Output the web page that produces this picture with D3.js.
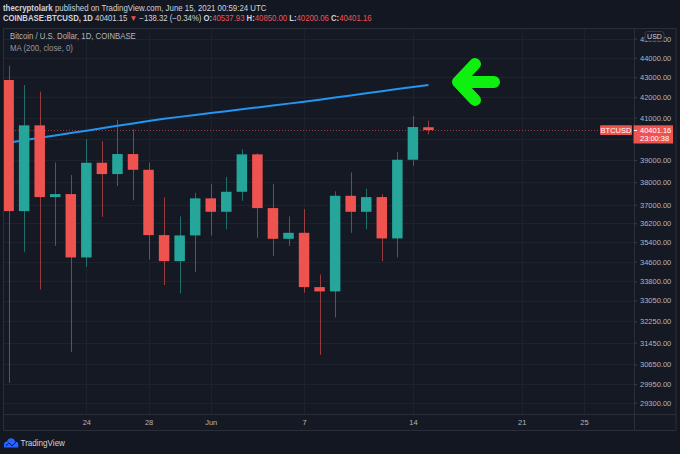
<!DOCTYPE html>
<html>
<head>
<meta charset="utf-8">
<title>BTCUSD 1D</title>
<script src="https://cdn.jsdelivr.net/npm/d3@7"></script>
<style>
  body { margin: 0; background: #131722; overflow: hidden; }
  text { font-family: "Liberation Sans", Arial, sans-serif; }
</style>
</head>
<body>
<script>

// daily candles (last one from the header)
var days   = ["2021-05-19","2021-05-20","2021-05-21","2021-05-22","2021-05-23","2021-05-24","2021-05-25",
              "2021-05-26","2021-05-27","2021-05-28","2021-05-29","2021-05-30","2021-05-31","2021-06-01",
              "2021-06-02","2021-06-03","2021-06-04","2021-06-05","2021-06-06","2021-06-07","2021-06-08",
              "2021-06-09","2021-06-10","2021-06-11","2021-06-12","2021-06-13","2021-06-14","2021-06-15"];
var opens  = [42858,36723,40629,37334,37467,34771,38876,38361,39277,38556,35698,34620,35685,37278,
              36693,37569,39263,36853,35543,35795,33576,33406,37392,36693,37334,35559,39014,40537.93];
var highs  = [43587,42606,42271,38894,38316,39977,39883,40884,40438,38894,37322,36494,37524,37911,
              38226,39495,39309,37925,36494,36810,34081,37587,38438,37702,37454,39383,41077,40850.00];
var lows   = [29992,35001,33482,35249,31108,34388,36477,37822,37190,34689,33656,33327,34186,35685,
              35939,37172,35585,34825,35249,33351,30999,32397,35795,35939,34620,34771,38738,40200.06];
var closes = [36723,40629,37334,37467,34771,38876,38361,39277,38556,35698,34620,35685,37278,36693,
              37569,39263,36853,35543,35795,33576,33406,37392,36693,37334,35559,39014,40547,40401.16];
var ma200  = [39808,39921,40034,40147,40261,40375,40490,40604,40720,40835,40944,41036,41128,41220,
              41312,41402,41495,41588,41682,41775,41876,41983,42087,42191,42296,42401,42506,42611];

// 40000 has a grid line but its label is covered by the last price box
var priceTicks = [45000,44000,43000,42000,41000,40000,39000,38000,37000,36200,35400,34600,
                  33800,33050,32250,31450,30650,29950,29300];
var hiddenTick = 40000;
var timeTicks  = ["2021-05-24","2021-05-28","2021-06-01","2021-06-07","2021-06-14","2021-06-21","2021-06-25"];
var timeLabels = ["24","28","Jun","7","14","21","25"];

var lastPrice = 40401.16;

var W = 680, H = 454;
var plotL = 3, plotR = 634, plotT = 29, plotB = 414;
var up = "#26a69a", down = "#ef5350";

var parse = d3.utcParse("%Y-%m-%d");
var candles = days.map(function (d, i) {
  return {date: parse(d), o: opens[i], h: highs[i], l: lows[i], c: closes[i], ma: ma200[i]};
});

var x = d3.scaleUtc()
  .domain([parse(days[0]), parse(days[days.length - 1])])
  .range([8.6, 428.45]);
var y = d3.scaleLog()
  .domain([29300, 44000])
  .range([402.7, 57.7]);

var svg = d3.select("body").append("svg")
  .attr("width", W)
  .attr("height", H);

// squeeze a text sideways so it spans the wanted width, keeping its height
function squeezeText(px, py, width, size) {
  var g = svg.append("g");
  var t = g.append("text").style("font-size", size + "px");
  t.fit = function () {
    var w = t.node().getComputedTextLength();
    var sx = w > 0 ? Math.min(1, width / w) : 1;
    g.attr("transform", "translate(" + px + "," + py + ") scale(" + sx + ",1)");
    return t;
  };
  return t;
}

svg.append("rect").attr("width", W).attr("height", H).attr("fill", "#131722");

// chart box
svg.append("rect")
  .attr("x", 3.5).attr("y", 28.5).attr("width", 672.5).attr("height", 402)
  .attr("fill", "#151924").attr("stroke", "#2a2e39");

// grid
var grid = svg.append("g").attr("stroke", "#1e222d").attr("stroke-width", 1);
grid.selectAll("line.h").data(priceTicks).enter().append("line")
  .attr("class", "h")
  .attr("x1", plotL + 1).attr("x2", plotR)
  .attr("y1", function (d) { return Math.round(y(d)) + 0.5; })
  .attr("y2", function (d) { return Math.round(y(d)) + 0.5; });
grid.selectAll("line.v").data(timeTicks).enter().append("line")
  .attr("class", "v")
  .attr("y1", plotT + 1).attr("y2", plotB)
  .attr("x1", function (d) { return Math.round(x(parse(d))) + 0.5; })
  .attr("x2", function (d) { return Math.round(x(parse(d))) + 0.5; });

// axis separators
svg.append("line").attr("x1", plotR + 0.5).attr("x2", plotR + 0.5).attr("y1", 29).attr("y2", 431)
  .attr("stroke", "#2a2e39");
svg.append("line").attr("x1", 3).attr("x2", 676).attr("y1", plotB + 0.5).attr("y2", plotB + 0.5)
  .attr("stroke", "#2a2e39");

svg.append("clipPath").attr("id", "plot")
  .append("rect").attr("x", plotL + 1).attr("y", plotT + 1)
  .attr("width", plotR - plotL - 1).attr("height", plotB - plotT - 1);
var plot = svg.append("g").attr("clip-path", "url(#plot)");

// last price line
plot.append("line")
  .attr("x1", plotL).attr("x2", 600)
  .attr("y1", Math.round(y(lastPrice)) + 0.5).attr("y2", Math.round(y(lastPrice)) + 0.5)
  .attr("stroke", down).attr("stroke-opacity", 0.6).attr("stroke-dasharray", "1,2");

// MA 200 (sits under the candles)
plot.append("path")
  .datum(candles)
  .attr("fill", "none")
  .attr("stroke", "#2196f3")
  .attr("stroke-width", 2)
  .attr("d", d3.line()
    .x(function (d) { return x(d.date); })
    .y(function (d) { return y(d.ma); }));

// candles
var bw = 10.5;
var cg = plot.selectAll("g.candle").data(candles).enter().append("g").attr("class", "candle");
cg.append("line")
  .attr("x1", function (d) { return Math.round(x(d.date)) + 0.5; })
  .attr("x2", function (d) { return Math.round(x(d.date)) + 0.5; })
  .attr("y1", function (d) { return y(d.h); })
  .attr("y2", function (d) { return y(d.l); })
  .attr("stroke", function (d) { return d.c >= d.o ? up : down; })
  .attr("stroke-opacity", 0.6);
cg.append("rect")
  .attr("x", function (d) { return x(d.date) - bw / 2; })
  .attr("width", bw)
  .attr("y", function (d) { return y(Math.max(d.o, d.c)); })
  .attr("height", function (d) { return Math.max(1.5, y(Math.min(d.o, d.c)) - y(Math.max(d.o, d.c))); })
  .attr("fill", function (d) { return d.c >= d.o ? up : down; });

// price axis
var yAxis = svg.append("g")
  .attr("transform", "translate(" + plotR + ",0)")
  .call(d3.axisRight(y).tickValues(priceTicks)
    .tickFormat(function (d) { return d === hiddenTick ? "" : d3.format(".2f")(d); })
    .tickSize(3).tickPadding(3));
yAxis.select(".domain").remove();
yAxis.selectAll("line").attr("stroke", "#3a3e49");
yAxis.selectAll("text").attr("fill", "#b2b5be").style("font-size", "7.5px");

// time axis
var xAxis = svg.append("g")
  .attr("transform", "translate(0," + plotB + ")")
  .call(d3.axisBottom(x)
    .tickValues(timeTicks.map(parse))
    .tickFormat(function (d, i) { return timeLabels[i]; })
    .tickSize(0).tickPadding(6));
xAxis.select(".domain").remove();
xAxis.selectAll("text").attr("fill", "#b2b5be").style("font-size", "7.5px");

// last price labels
var ly = y(lastPrice);
svg.append("rect").attr("x", 600).attr("y", ly - 4.8).attr("width", 32).attr("height", 9.8)
  .attr("rx", 1).attr("fill", down);
svg.append("text").attr("x", 616).attr("y", ly + 2.6).attr("text-anchor", "middle")
  .attr("fill", "#fff").style("font-size", "7.5px").text("BTCUSD");
svg.append("rect").attr("x", 633.5).attr("y", ly - 4.8).attr("width", 39.5).attr("height", 18.2)
  .attr("fill", down);
svg.append("line").attr("x1", 634).attr("x2", 637).attr("y1", Math.round(ly) + 0.5).attr("y2", Math.round(ly) + 0.5)
  .attr("stroke", "#fff");
svg.append("text").attr("x", 640).attr("y", ly + 2.6)
  .attr("fill", "#fff").style("font-size", "7.5px").text(d3.format(".2f")(lastPrice));
svg.append("text").attr("x", 640).attr("y", ly + 11)
  .attr("fill", "#fff").style("font-size", "7.5px").text("23:00:38");

// USD badge over the top tick
svg.append("rect").attr("x", 645).attr("y", 31.5).attr("width", 19).attr("height", 9.5).attr("rx", 2.5)
  .attr("fill", "#151924").attr("stroke", "#363a45");
svg.append("text").attr("x", 654.5).attr("y", 39).attr("text-anchor", "middle")
  .attr("fill", "#d1d4dc").style("font-size", "7px").text("USD");

// header
var h1 = squeezeText(3, 10.5, 264, 8.5).attr("fill", "#d1d4dc");
h1.append("tspan").attr("font-weight", "bold").text("thecryptolark");
h1.append("tspan").text(" published on TradingView.com, June 15, 2021 00:59:24 UTC");
h1.fit();

var h2 = squeezeText(3, 20.5, 369, 8.5).attr("fill", "#d1d4dc");
var parts = [
  ["COINBASE:BTCUSD, 1D", "#d1d4dc", "bold"],
  [" 40401.15 ", "#d1d4dc", "normal"],
  ["\u25BC", down, "normal"],
  [" \u2212138.32 (\u22120.34%) ", "#d1d4dc", "normal"],
  ["O:", "#d1d4dc", "bold"], ["40537.93", down, "normal"],
  [" H:", "#d1d4dc", "bold"], ["40850.00", down, "normal"],
  [" L:", "#d1d4dc", "bold"], ["40200.06", down, "normal"],
  [" C:", "#d1d4dc", "bold"], ["40401.16", down, "normal"]
];
parts.forEach(function (p) {
  h2.append("tspan").attr("fill", p[1]).attr("font-weight", p[2]).text(p[0]);
});
h2.fit();

// legend
squeezeText(10, 39, 126, 8.5).attr("fill", "#b2b5be")
  .text("Bitcoin / U.S. Dollar, 1D, COINBASE").fit();
squeezeText(10, 50.5, 63, 8.5).attr("fill", "#9598a1")
  .text("MA (200, close, 0)").fit();

// green arrow
svg.append("path")
  .attr("d", "M475,64 L458,82 L475,100 M458,82 L494,82")
  .attr("fill", "none").attr("stroke", "#10f010")
  .attr("stroke-width", 12).attr("stroke-linecap", "round").attr("stroke-linejoin", "round");

// footer logo
svg.append("path")
  .attr("d", "M4,447.5 L4,444.5 Q4,441.5 7,441.5 Q8,438.3 11,438.3 Q14.2,438.3 15,441.5 Q18.3,441.5 18.3,444.5 L18.3,447.5 Z")
  .attr("fill", "#2962ff");
svg.append("path")
  .attr("d", "M6,446 L9,442.8 L12,446 L16,442")
  .attr("fill", "none").attr("stroke", "#131722").attr("stroke-width", 1);
squeezeText(20.5, 445.5, 44.5, 9).attr("fill", "#d1d4dc").text("TradingView").fit();

</script>
</body>
</html>
